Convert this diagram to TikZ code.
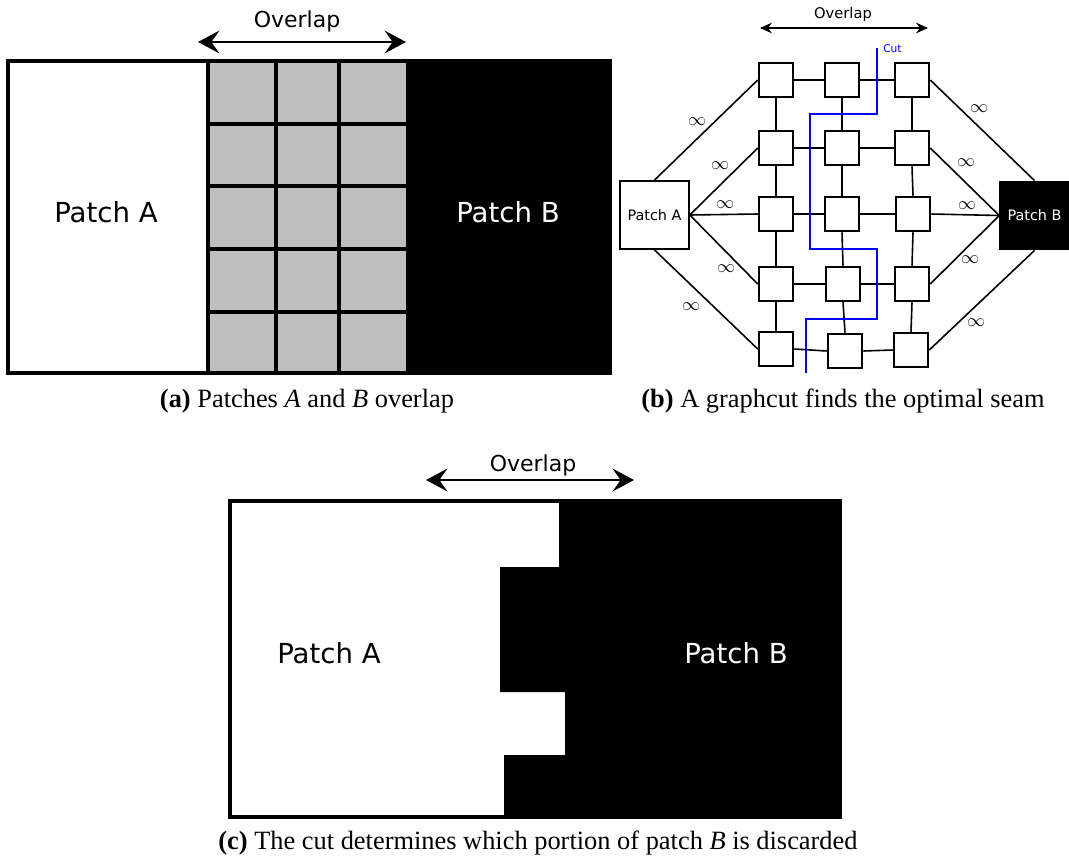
\documentclass[tikz,border=0pt]{standalone}
\usepackage{fontspec}
\setmainfont{Liberation Serif}
\newfontfamily\labelfont{DejaVu Sans}
\usetikzlibrary{arrows.meta}
\definecolor{cellgray}{RGB}{190,190,190}
\definecolor{cutblue}{RGB}{0,0,255}

\begin{document}
\begin{tikzpicture}[x=0.75pt,y=-0.75pt,
  bigarrow/.style={{Stealth[length=16pt,width=17pt,inset=6pt]}-{Stealth[length=16pt,width=17pt,inset=6pt]}, line width=2.2pt},
  smallarrow/.style={{Stealth[length=9pt,width=8pt,inset=3pt]}-{Stealth[length=9pt,width=8pt,inset=3pt]}, line width=1.1pt},
  biglabel/.style={font=\labelfont\fontsize{20.7}{24}\selectfont, inner sep=0, anchor=base},
  overlaplabel/.style={font=\labelfont\fontsize{16.5}{19}\selectfont, inner sep=0, anchor=base},
  smalllabel/.style={font=\labelfont\fontsize{10.8}{13}\selectfont},
  patchbox/.style={draw, line width=1.4pt, minimum width=51.5pt, minimum height=51pt, inner sep=0, smalllabel},
  cell/.style={draw, line width=1.4pt, fill=white, minimum size=26pt, inner sep=0},
  link/.style={line width=1.2pt},
  inf/.style={font=\fontsize{10}{12}\selectfont, inner sep=0, scale=1.35},
  cutline/.style={draw=cutblue, line width=1.3pt},
  captiontext/.style={font=\fontsize{19.8}{24}\selectfont, inner sep=0, anchor=base},
]
\useasboundingbox (0,0) rectangle (1069,857);

% ---------------- (a) two overlapping patches ----------------
\fill[white] (8,61) rectangle (208,373);
\fill[cellgray] (208,61) rectangle (406,373);
\fill[black] (406,61) rectangle (610,373);
\draw[line width=2.6pt] (276,61) -- (276,373) (339,61) -- (339,373);
\draw[line width=2.6pt] (208,124) -- (406,124) (208,186) -- (406,186)
                        (208,249) -- (406,249) (208,312) -- (406,312);
\draw[line width=3pt] (208,61) -- (208,373);
\draw[line width=2.8pt] (8,61) rectangle (610,373);
\node[biglabel] (aA) at (106,222) {Patch A};
\node[biglabel, text=white] (aB) at (508,222) {Patch B};
\coordinate (aL) at (198,42);
\coordinate (aR) at (406,42);
\draw[bigarrow] (aL) -- (aR);
\node[overlaplabel] (aO) at (297,27) {Overlap};
\node[captiontext] (capa) at (307,407) {\textbf{(a)} Patches \textit{A} and \textit{B} overlap};

% ---------------- (b) graph of overlap pixels ----------------
\node[patchbox, fill=white] (PA) at (654.5,215) {Patch A};
\node[patchbox, fill=black, text=white] (PB) at (1034.5,215.5) {Patch B};

\node[cell] (n11) at (776,80) {};
\node[cell] (n12) at (842,80) {};
\node[cell] (n13) at (912,80) {};
\node[cell] (n21) at (776,148) {};
\node[cell] (n22) at (842,148) {};
\node[cell] (n23) at (912,148) {};
\node[cell] (n31) at (776,214) {};
\node[cell] (n32) at (842,214) {};
\node[cell] (n33) at (913,214) {};
\node[cell] (n41) at (776,284) {};
\node[cell] (n42) at (843,284) {};
\node[cell] (n43) at (912,284) {};
\node[cell] (n51) at (776,349) {};
\node[cell] (n52) at (845,351) {};
\node[cell] (n53) at (911,350) {};

% neighbour links inside the overlap
\foreach \r in {1,...,5}{
  \draw[link] (n\r1.east) -- (n\r2.west);
  \draw[link] (n\r2.east) -- (n\r3.west);
}
\foreach \c in {1,2,3}{
  \draw[link] (n1\c.south) -- (n2\c.north);
  \draw[link] (n2\c.south) -- (n3\c.north);
  \draw[link] (n3\c.south) -- (n4\c.north);
  \draw[link] (n4\c.south) -- (n5\c.north);
}

% terminal links
\draw[link] (PA.north) -- (n11.west);
\draw[link] (PA.east) -- (n21.west);
\draw[link] (PA.east) -- (n31.west);
\draw[link] (PA.east) -- (n41.west);
\draw[link] (PA.south) -- (n51.west);
\draw[link] (PB.north) -- (n13.east);
\draw[link] (PB.west) -- (n23.east);
\draw[link] (PB.west) -- (n33.east);
\draw[link] (PB.west) -- (n43.east);
\draw[link] (PB.south) -- (n53.east);

\node[inf] (i1) at (697,122) {$\infty$};
\node[inf] (i2) at (720,166) {$\infty$};
\node[inf] (i3) at (725,205) {$\infty$};
\node[inf] (i4) at (726,269) {$\infty$};
\node[inf] (i5) at (691,307) {$\infty$};
\node[inf] (i6) at (979,109) {$\infty$};
\node[inf] (i7) at (966,163) {$\infty$};
\node[inf] (i8) at (967,206) {$\infty$};
\node[inf] (i9) at (970,260) {$\infty$};
\node[inf] (i10) at (976,323) {$\infty$};

% the seam
\coordinate (c0) at (877,48);
\coordinate (c1) at (806,373);
\draw[cutline] (c0) -- (877,114) -- (810,114) -- (810,249) -- (877,249)
               -- (877,319) -- (806,319) -- (c1);
\node[font=\labelfont\fontsize{8}{10}\selectfont, text=cutblue, inner sep=0, anchor=base west] (cut) at (883,52.5) {Cut};

\coordinate (bL) at (760,28);
\coordinate (bR) at (928,28);
\draw[smallarrow] (bL) -- (bR);
\node[font=\labelfont\fontsize{11}{13}\selectfont, inner sep=0, anchor=base] (bO) at (843,18) {Overlap};
\node[captiontext] (capb) at (843,407) {\textbf{(b)} A graphcut finds the optimal seam};

% ---------------- (c) result of the cut ----------------
\fill[white] (230,501) rectangle (840,817);
\fill[black] (559,501) -- (840,501) -- (840,817) -- (504,817) -- (504,755)
  -- (565,755) -- (565,692) -- (500,692) -- (500,567) -- (559,567) -- cycle;
\draw[line width=2.4pt] (230,501) rectangle (840,817);
\node[biglabel] (cA) at (329,663) {Patch A};
\node[biglabel, text=white] (cB) at (736,663) {Patch B};
\coordinate (cL) at (426,480);
\coordinate (cR) at (634,480);
\draw[bigarrow] (cL) -- (cR);
\node[overlaplabel] (cO) at (533,471) {Overlap};
\node[captiontext] (capc) at (538,849) {\textbf{(c)} The cut determines which portion of patch \textit{B} is discarded};
\end{tikzpicture}
\end{document}
